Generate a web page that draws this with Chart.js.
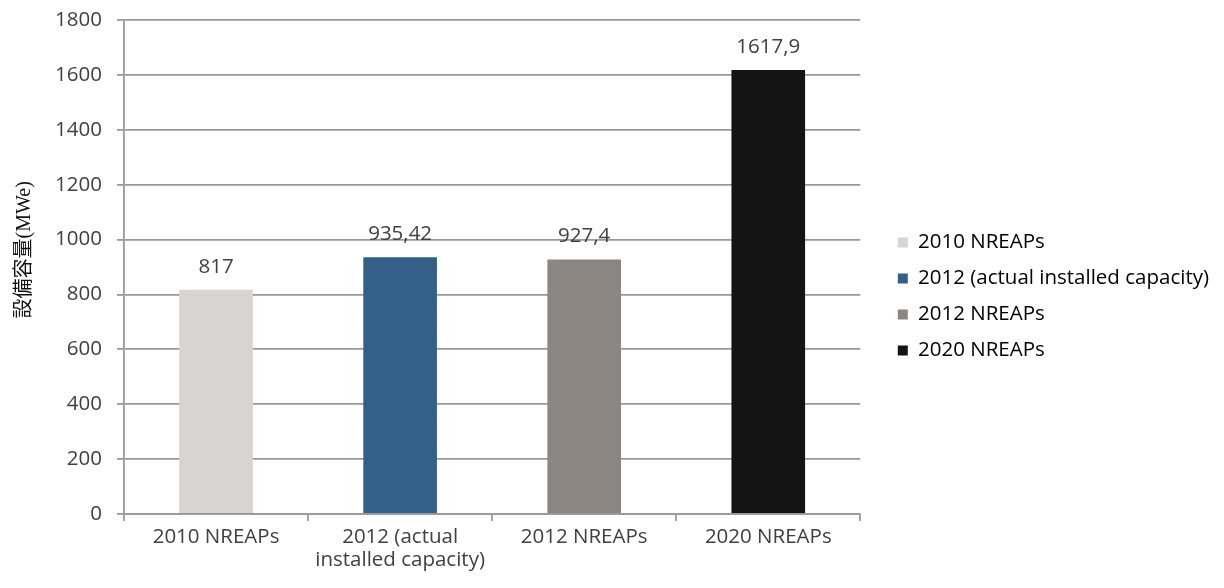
<!DOCTYPE html>
<html>
<head>
<meta charset="utf-8">
<script src="https://cdn.jsdelivr.net/npm/chart.js@4.4.1/dist/chart.umd.min.js"></script>
<style>
  html, body { margin: 0; padding: 0; background: #ffffff; }
  #wrap { width: 1224px; height: 588px; position: relative; }
</style>
</head>
<body>
<div id="wrap"><canvas id="chart" width="1224" height="588"></canvas></div>
<script>
// Installed capacity by scenario (MWe)
const categories = ['2010 NREAPs', ['2012 (actual', 'installed capacity)'], '2012 NREAPs', '2020 NREAPs'];
const legendNames = ['2010 NREAPs', '2012 (actual installed capacity)', '2012 NREAPs', '2020 NREAPs'];
const capacity = [817, 935.42, 927.4, 1617.9];
const barColors = ['#d8d4d1', '#336088', '#8b8682', '#141414'];
const yTicks = { min: 0, max: 1800, step: 200 };
const yTitle = '設備容量(MWe)';

const textColor = '#404040';
const lineColor = '#999999';
const baseFont = '"Open Sans", Lato, sans-serif';
const fontSize = 20.5;

// Writes each bar's value above it, decimal comma style
const valueLabels = {
  id: 'valueLabels',
  afterDatasetsDraw(chart) {
    const ctx = chart.ctx;
    const meta = chart.getDatasetMeta(0);
    ctx.save();
    ctx.font = fontSize + 'px ' + baseFont;
    ctx.fillStyle = textColor;
    ctx.textAlign = 'center';
    ctx.textBaseline = 'middle';
    meta.data.forEach((bar, i) => {
      const txt = String(chart.data.datasets[0].data[i]).replace('.', ',');
      ctx.fillText(txt, bar.x, bar.y - 23);
    });
    ctx.restore();
  }
};

// Vertical axis caption, set a little above the middle of the plot
const axisCaption = {
  id: 'axisCaption',
  afterDraw(chart) {
    const ctx = chart.ctx;
    const area = chart.chartArea;
    ctx.save();
    ctx.translate(25, area.top + (area.bottom - area.top) * 0.465);
    ctx.rotate(-Math.PI / 2);
    ctx.font = '20px "Liberation Serif", "Noto Sans CJK JP", serif';
    ctx.fillStyle = '#111111';
    ctx.textAlign = 'center';
    ctx.textBaseline = 'middle';
    ctx.fillText(yTitle, 0, 0);
    ctx.restore();
  }
};

new Chart(document.getElementById('chart'), {
  type: 'bar',
  data: {
    labels: categories,
    datasets: [{
      label: 'capacity',
      data: capacity,
      backgroundColor: barColors,
      borderWidth: 0,
      categoryPercentage: 1.0,
      barPercentage: 0.4
    }]
  },
  options: {
    responsive: false,
    animation: false,
    devicePixelRatio: 1,
    layout: { padding: { top: 5, right: 5, bottom: 0, left: 0 } },
    plugins: {
      tooltip: { enabled: false },
      legend: {
        position: 'right',
        maxWidth: 420,
        labels: {
          color: textColor,
          font: { family: baseFont, size: fontSize },
          boxWidth: 10,
          boxHeight: 10,
          padding: 15.5,
          generateLabels() {
            return legendNames.map((name, i) => ({
              text: name,
              fillStyle: barColors[i],
              strokeStyle: barColors[i],
              lineWidth: 0,
              hidden: false,
              index: i,
              datasetIndex: 0
            }));
          }
        }
      }
    },
    scales: {
      x: {
        afterFit(scale) { scale.height = 74; },
        grid: {
          offset: true,
          drawOnChartArea: false,
          drawTicks: true,
          tickLength: 7,
          color: lineColor,
          lineWidth: 1.8
        },
        border: { display: true, color: lineColor, width: 1.8 },
        ticks: {
          color: textColor,
          font: { family: baseFont, size: fontSize, lineHeight: 1.15 },
          padding: 4,
          maxRotation: 0,
          autoSkip: false
        }
      },
      y: {
        min: yTicks.min,
        max: yTicks.max,
        afterFit(scale) { scale.width = 124; },
        grid: {
          drawOnChartArea: true,
          drawTicks: true,
          tickLength: 7,
          color: lineColor,
          lineWidth: 1.8
        },
        border: { display: true, color: lineColor, width: 1.8 },
        ticks: {
          stepSize: yTicks.step,
          color: textColor,
          font: { family: baseFont, size: fontSize, lineHeight: 0.5 },
          padding: 15,
          callback: (v) => String(v)
        }
      },
      // empty strip between the plot and the legend
      gap: {
        type: 'linear',
        position: 'right',
        afterFit(scale) { scale.width = 22; },
        grid: { display: false },
        border: { display: false },
        ticks: { display: false }
      }
    }
  },
  plugins: [valueLabels, axisCaption]
});
</script>
</body>
</html>
